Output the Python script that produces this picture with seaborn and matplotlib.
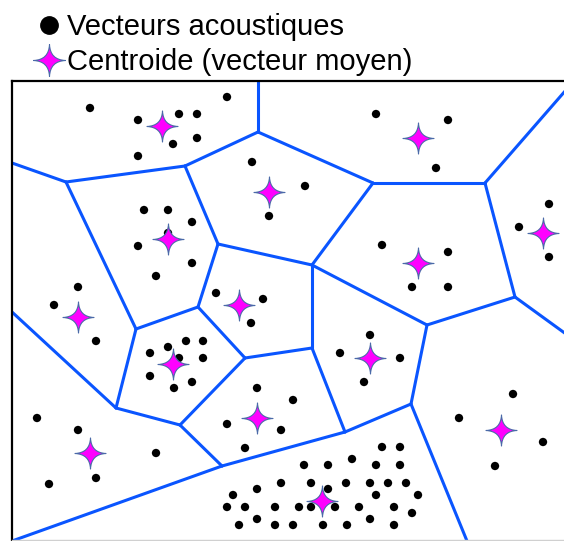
import seaborn as sns
import matplotlib.pyplot as plt
from matplotlib.path import Path
from matplotlib.lines import Line2D

# acoustic vectors (pixel-like coordinates, y grows downward)
pts_x = [90, 227, 138, 179, 197, 197, 173, 138,
         376, 448, 436,
         252, 305, 269,
         144, 168, 192, 168, 138, 192, 156,
         549, 519, 549,
         78, 54, 96,
         216, 263, 251,
         382, 448, 412, 448,
         150, 168, 186, 203, 179, 203, 150, 192, 174,
         370, 340, 400, 364,
         257, 293, 227, 281, 245,
         37, 78, 156, 96, 49,
         513, 459, 543, 495,
         382, 400, 352, 304, 328, 376, 400,
         281, 311, 346, 370, 388, 406, 257, 328,
         233, 376, 418,
         227, 245, 275, 299, 311, 335, 359, 394, 412, 257, 370,
         239, 275, 293, 323, 347, 394]
pts_y = [108, 97, 120, 114, 114, 138, 144, 156,
         114, 120, 168,
         162, 186, 216,
         210, 210, 222, 233, 246, 263, 276,
         204, 227, 257,
         287, 305, 341,
         293, 299, 323,
         245, 252, 287, 287,
         353, 347, 341, 341, 358, 358, 376, 382, 388,
         335, 353, 358, 382,
         388, 400, 424, 430, 448,
         418, 430, 453, 478, 484,
         394, 418, 442, 466,
         447, 447, 459, 465, 465, 465, 465,
         483, 483, 483, 483, 483, 483, 489, 489,
         495, 495, 495,
         507, 507, 507, 507, 507, 507, 507, 507, 513, 519, 519,
         525, 525, 525, 525, 525, 525]

# centroids
cent_x = [162, 269, 418, 543, 168, 78, 239, 173, 418, 370, 90, 257, 501, 322]
cent_y = [126, 192, 138, 233, 239, 317, 305, 364, 263, 358, 453, 418, 430, 501]

# voronoi cell vertices and edges
verts = {
    'top0': (258, 81), 'A': (258, 132), 'B': (373, 183), 'C': (185, 166),
    'D': (66, 182), 'L0': (12, 163), 'E': (218, 244), 'F': (136, 329),
    'G': (312, 265), 'H': (198, 307), 'I': (116, 408), 'L1': (12, 312),
    'J': (245, 358), 'K': (180, 425), 'L': (222, 466), 'L2': (12, 541),
    'M': (345, 432), 'N': (312, 348), 'O': (427, 325), 'P': (515, 297),
    'R0': (566, 334), 'Q': (485, 183), 'R1': (566, 90), 'R': (411, 404),
    'B0': (467, 541),
}
edges = [('top0', 'A'), ('A', 'B'), ('A', 'C'), ('C', 'D'), ('D', 'L0'),
         ('C', 'E'), ('D', 'F'), ('E', 'G'), ('E', 'H'), ('H', 'F'),
         ('F', 'I'), ('L1', 'I'), ('H', 'J'), ('J', 'K'), ('K', 'I'),
         ('K', 'L'), ('L2', 'L'), ('L', 'M'), ('N', 'M'), ('J', 'N'),
         ('N', 'G'), ('G', 'O'), ('O', 'P'), ('P', 'R0'), ('P', 'Q'),
         ('B', 'Q'), ('Q', 'R1'), ('B', 'G'), ('O', 'R'), ('R', 'M'),
         ('R', 'B0')]

labels = ['Vecteurs acoustiques', 'Centroide (vecteur moyen)']

sns.set_theme(style="white")
plt.rcParams['font.family'] = ['Liberation Sans', 'DejaVu Sans']

# four pointed star marker with concave sides
star = Path([(0, 1), (0.04, 0.04), (1, 0), (0.04, -0.04), (0, -1),
             (-0.04, -0.04), (-1, 0), (-0.04, 0.04), (0, 1), (0, 1)],
            [Path.MOVETO, Path.CURVE3, Path.CURVE3, Path.CURVE3, Path.CURVE3,
             Path.CURVE3, Path.CURVE3, Path.CURVE3, Path.CURVE3, Path.CLOSEPOLY])

fig = plt.figure(figsize=(5.64, 5.41), dpi=100)
ax = fig.add_axes([12 / 564, 1 / 541, 554 / 564, 459 / 541])

line_col = '#0a55ff'
for a, b in edges:
    (x0, y0), (x1, y1) = verts[a], verts[b]
    ax.plot([x0, x1], [y0, y1], color=line_col, lw=2.2, solid_capstyle='round', zorder=1)

sns.scatterplot(x=pts_x, y=pts_y, color='black', s=36, edgecolor='none',
                ax=ax, legend=False, zorder=3)
sns.scatterplot(x=cent_x, y=cent_y, marker=star, color='#ff00ff', s=500,
                edgecolor='#4a6aa8', linewidth=0.8, ax=ax, legend=False, zorder=4)

ax.set_xlim(12, 566)
ax.set_ylim(540, 81)
ax.set_xticks([])
ax.set_yticks([])
for side in ['left', 'top']:
    ax.spines[side].set_color('black')
    ax.spines[side].set_linewidth(1.6)
ax.spines['right'].set_visible(False)
ax.spines['bottom'].set_color('#d0d0d0')
ax.spines['bottom'].set_linewidth(1.0)

handles = [Line2D([], [], ls='none', marker='o', color='black', markersize=12.5),
           Line2D([], [], ls='none', marker=star, markerfacecolor='#ff00ff',
                  markeredgecolor='#4a6aa8', markeredgewidth=0.8, markersize=23)]
fig.legend(handles, labels, loc='upper left', bbox_to_anchor=(15 / 564, 1 + 7 / 541),
           frameon=False, fontsize=21, labelcolor='black', handlelength=0.95,
           handletextpad=0.12, labelspacing=0.24, borderpad=0.2)

fig.savefig('out.png', dpi=100)
